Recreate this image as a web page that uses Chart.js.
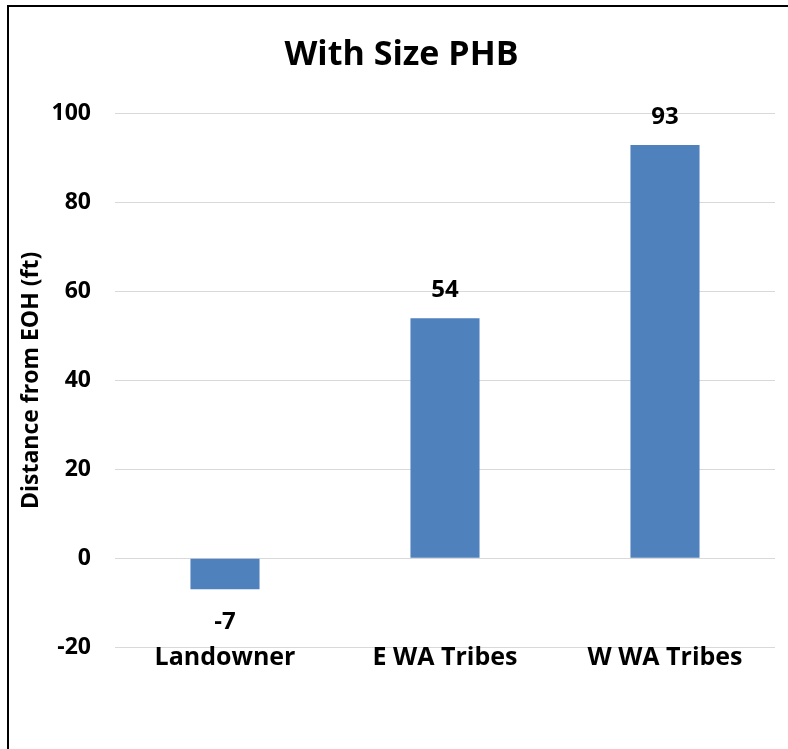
<!DOCTYPE html>
<html>
<head>
<meta charset="utf-8">
<script src="https://cdn.jsdelivr.net/npm/chart.js@4"></script>
<style>
  html, body { margin: 0; padding: 0; width: 788px; height: 749px; overflow: hidden; background: #fff; }
  #frame { position: absolute; left: 7px; top: 5px; width: 1000px; height: 1000px; border: 2px solid #000; box-sizing: border-box; }
  #wrap { position: absolute; left: 0; top: 0; width: 788px; height: 749px; }
</style>
</head>
<body>
<div id="frame"></div>
<div id="wrap"><canvas id="c" width="788" height="749"></canvas></div>
<script>
const categories = ["Landowner", "E WA Tribes", "W WA Tribes"];
const distanceValues = [-7, 54, 93];
const yTickMin = -20;
const yTickMax = 100;
const yTickStep = 20;
const chartTitle = "With Size PHB";
const yAxisTitle = "Distance from EOH (ft)";

const FONT = "'Open Sans', Lato, sans-serif";

// value labels above/below bars, and category labels drawn over the bottom gridline
const barLabels = {
  id: 'barLabels',
  afterDatasetsDraw(chart) {
    const ctx = chart.ctx;
    const meta = chart.getDatasetMeta(0);
    ctx.save();
    ctx.fillStyle = "#000";
    ctx.textAlign = "center";
    ctx.textBaseline = "middle";
    ctx.font = "bold 24px " + FONT;
    meta.data.forEach((bar, i) => {
      const v = chart.data.datasets[0].data[i];
      const y = v >= 0 ? bar.y - 28 : bar.y + 33;
      ctx.fillText(String(v), bar.x, y);
    });
    const xs = chart.scales.x;
    ctx.font = "bold 25px " + FONT;
    chart.data.labels.forEach((lab, i) => {
      ctx.fillText(lab, xs.getPixelForTick(i), chart.chartArea.bottom + 11);
    });
    ctx.restore();
  }
};

new Chart(document.getElementById('c'), {
  type: 'bar',
  data: {
    labels: categories,
    datasets: [{
      data: distanceValues,
      backgroundColor: '#4F81BD',
      borderWidth: 0,
      categoryPercentage: 1.0,
      barPercentage: 0.314
    }]
  },
  options: {
    responsive: false,
    animation: false,
    devicePixelRatio: 1,
    layout: { padding: { left: 28, right: 13, top: 0, bottom: 102 } },
    plugins: {
      legend: { display: false },
      tooltip: { enabled: false },
      title: {
        display: true,
        text: chartTitle,
        color: '#000',
        font: { family: FONT, size: 34, weight: 'bold', lineHeight: 1.2 },
        padding: { top: 35, bottom: 38 }
      }
    },
    scales: {
      x: {
        grid: { display: false, drawTicks: false },
        border: { display: false },
        ticks: { display: false },
        afterFit(scale) { scale.height = 0; }
      },
      y: {
        min: yTickMin,
        max: yTickMax,
        afterFit(scale) { scale.width = 87; },
        grid: { color: '#D9D9D9', lineWidth: 1, drawTicks: false },
        border: { display: false },
        ticks: {
          stepSize: yTickStep,
          color: '#000',
          padding: 24,
          font: { family: FONT, size: 23, weight: 'bold' }
        },
        title: {
          display: true,
          text: yAxisTitle,
          color: '#000',
          font: { family: FONT, size: 23, weight: 'bold', lineHeight: 1.2 },
          padding: { top: -10, bottom: 0 }
        }
      }
    }
  },
  plugins: [barLabels]
});
</script>
</body>
</html>
